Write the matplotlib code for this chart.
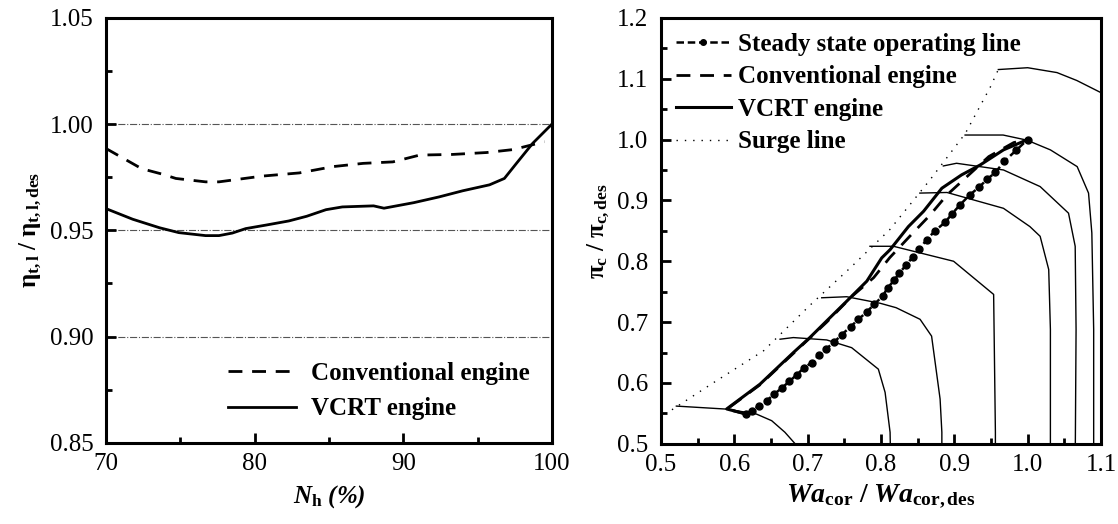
import matplotlib
matplotlib.use("Agg")
import matplotlib.pyplot as plt
from matplotlib.ticker import MultipleLocator, FormatStrFormatter

plt.rcParams["font.family"] = ["Liberation Serif", "DejaVu Serif"]
plt.rcParams["mathtext.fontset"] = "custom"
plt.rcParams["mathtext.rm"] = "Liberation Serif"
plt.rcParams["mathtext.it"] = "Liberation Serif:italic"
plt.rcParams["mathtext.bf"] = "Liberation Serif:bold"
plt.rcParams["mathtext.bfit"] = "Liberation Serif:bold:italic"

# ---- left panel: turbine efficiency vs. spool speed ----
nh_conv = [70, 72.4, 73.8, 74.7, 76.7, 77.6, 80.5, 83.0, 85.3, 87.3, 89.3, 91.1, 93.3, 95.6, 97.4, 99.5]
eta_conv = [0.9885, 0.979, 0.9764, 0.9744, 0.9728, 0.9728, 0.9755, 0.977, 0.980, 0.9815,
            0.9822, 0.9854, 0.9857, 0.9866, 0.988, 0.9917]

nh_vcrt = [70, 71.8, 73.6, 74.9, 76.7, 77.6, 78.5, 79.4, 80.8, 82.3, 83.5, 84.8, 85.9, 88.0,
           88.7, 90.7, 92.4, 94.0, 95.8, 96.8, 97.6, 98.7, 100]
eta_vcrt = [0.9602, 0.9552, 0.9512, 0.9489, 0.9475, 0.9475, 0.9487, 0.9508, 0.9525, 0.9544,
            0.9566, 0.9597, 0.961, 0.9615, 0.9604, 0.963, 0.9657, 0.9686, 0.9714, 0.9744,
            0.9814, 0.9909, 1.000]

# ---- right panel: compressor map ----
ss_wa = [0.616, 0.6237, 0.6342, 0.6442, 0.6546, 0.6646, 0.6751, 0.6851, 0.6951, 0.7056,
         0.7156, 0.7247, 0.7365, 0.7465, 0.7588, 0.7692, 0.7806, 0.7906, 0.8024, 0.8090,
         0.8179, 0.8251, 0.8342, 0.8433, 0.8524, 0.8624, 0.8738, 0.8874, 0.897, 0.908,
         0.921, 0.934, 0.945, 0.956, 0.968, 0.984, 1.0]
ss_pi = [0.5491, 0.5546, 0.5628, 0.5709, 0.5818, 0.5917, 0.6026, 0.6135, 0.6249, 0.6336,
         0.6462, 0.6555, 0.6675, 0.6795, 0.6926, 0.7046, 0.7166, 0.7291, 0.7427, 0.7564,
         0.7684, 0.7810, 0.7934, 0.8071, 0.8202, 0.8355, 0.8502, 0.8640, 0.878, 0.893,
         0.909, 0.922, 0.935, 0.946, 0.964, 0.982, 1.0]

conv_wa = [0.616, 0.590, 0.635, 0.680, 0.726, 0.760, 0.790, 0.812, 0.840, 0.867, 0.890,
           0.947, 0.981, 1.0]
conv_pi = [0.549, 0.557, 0.597, 0.648, 0.700, 0.742, 0.773, 0.806, 0.842, 0.876, 0.909,
           0.972, 0.995, 1.0]

vcrt_wa = [0.616, 0.5896, 0.635, 0.6806, 0.703, 0.726, 0.7535, 0.7807, 0.801, 0.8124,
           0.8374, 0.858, 0.883, 0.910, 0.935, 0.967, 1.0]
vcrt_pi = [0.549, 0.5573, 0.598, 0.650, 0.6746, 0.702, 0.7346, 0.7673, 0.8055, 0.819,
           0.857, 0.882, 0.920, 0.942, 0.958, 0.983, 1.0]

surge_wa = [0.515, 0.571, 0.640, 0.703, 0.758, 0.812, 0.867, 0.915, 0.949, 0.960]
surge_pi = [0.556, 0.600, 0.653, 0.7275, 0.789, 0.852, 0.934, 1.010, 1.086, 1.115]

speed_lines = [
    ([0.521, 0.590, 0.630, 0.651, 0.669, 0.683], [0.562, 0.557, 0.549, 0.538, 0.519, 0.50]),
    ([0.6624, 0.6805, 0.726, 0.760, 0.7964, 0.8056, 0.8124, 0.8127],
     [0.6719, 0.6746, 0.6707, 0.658, 0.6227, 0.5846, 0.519, 0.50]),
    ([0.7192, 0.7533, 0.7988, 0.8206, 0.8533, 0.869, 0.8806, 0.883, 0.883],
     [0.740, 0.7417, 0.731, 0.7237, 0.7046, 0.677, 0.5736, 0.519, 0.50]),
    ([0.785, 0.817, 0.899, 0.9536, 0.956, 0.956], [0.8246, 0.8246, 0.800, 0.7455, 0.519, 0.50]),
    ([0.853, 0.890, 0.967, 1.003, 1.017, 1.0287, 1.031, 1.031],
     [0.912, 0.913, 0.887, 0.857, 0.841, 0.7864, 0.688, 0.50]),
    ([0.885, 0.903, 0.967, 1.017, 1.0557, 1.0648, 1.066, 1.065],
     [0.9566, 0.961, 0.950, 0.9227, 0.879, 0.8246, 0.688, 0.50]),
    ([0.9147, 0.9665, 0.999, 1.031, 1.0675, 1.083, 1.0875, 1.09, 1.09],
     [1.0074, 1.0074, 0.999, 0.983, 0.9555, 0.912, 0.8465, 0.688, 0.50]),
    ([0.960, 1.0, 1.04, 1.067, 1.1], [1.115, 1.118, 1.110, 1.097, 1.077]),
]

fig = plt.figure(figsize=(11.18, 5.24), dpi=100)
ax1 = fig.add_axes([0.0948, 0.155, 0.3989, 0.811])
ax2 = fig.add_axes([0.5912, 0.153, 0.3936, 0.813])


def style_axes(ax):
    for s in ax.spines.values():
        s.set_linewidth(2.2)
    ax.tick_params(which="both", direction="in", width=2, labelsize=18)
    ax.tick_params(which="major", length=7)
    ax.tick_params(which="minor", length=4)
    ax.tick_params(axis="y", pad=9)
    ax.tick_params(axis="x", pad=7)


ax1.plot(nh_conv, eta_conv, color="black", lw=2, ls=(0, (5, 3.5)), label="Conventional engine")
ax1.plot(nh_vcrt, eta_vcrt, color="black", lw=2, label="VCRT engine")
ax1.set_xlim(70, 100)
ax1.set_ylim(0.85, 1.05)
ax1.xaxis.set_major_locator(MultipleLocator(10))
ax1.xaxis.set_minor_locator(MultipleLocator(5))
ax1.yaxis.set_major_locator(MultipleLocator(0.05))
ax1.yaxis.set_minor_locator(MultipleLocator(0.025))
ax1.yaxis.set_major_formatter(FormatStrFormatter("%.2f"))
ax1.yaxis.grid(True, ls="-.", color="#555555", lw=0.8)
style_axes(ax1)
ax1.set_xlabel(r"$\mathbfit{N}_{\mathbf{h}}\ \mathbfit{(\%)}$", fontsize=18, labelpad=6)
ax1.set_ylabel(r"$\mathbf{\eta}_{\mathbf{t,l}}\ \mathbf{/}\ \mathbf{\eta}_{\mathbf{t,l,des}}$",
               fontsize=18, labelpad=4)
ax1.legend(loc="lower right", frameon=False, handlelength=2.7, handletextpad=0.6,
           borderaxespad=0.5, prop={"weight": "bold", "size": 18}, labelspacing=0.5)

ax2.plot(ss_wa, ss_pi, color="black", lw=1.8, ls=(0, (3, 1.5)), marker="o", ms=5,
         label="Steady state operating line")
ax2.plot(conv_wa, conv_pi, color="black", lw=2, ls=(0, (5, 3.5)), label="Conventional engine")
ax2.plot(vcrt_wa, vcrt_pi, color="black", lw=2.2, label="VCRT engine")
ax2.plot(surge_wa, surge_pi, color="black", lw=1.0, ls=(0, (1, 5)), label="Surge line")
for wa, pi in speed_lines:
    ax2.plot(wa, pi, color="black", lw=1.0)
ax2.set_xlim(0.5, 1.1)
ax2.set_ylim(0.5, 1.2)
ax2.xaxis.set_major_locator(MultipleLocator(0.1))
ax2.xaxis.set_minor_locator(MultipleLocator(0.05))
ax2.yaxis.set_major_locator(MultipleLocator(0.1))
ax2.yaxis.set_minor_locator(MultipleLocator(0.05))
ax2.xaxis.set_major_formatter(FormatStrFormatter("%.1f"))
ax2.yaxis.set_major_formatter(FormatStrFormatter("%.1f"))
style_axes(ax2)
ax2.set_xlabel(r"$\mathbfit{Wa}_{\mathbf{cor}}\ \mathbf{/}\ \mathbfit{Wa}_{\mathbf{cor,des}}$",
               fontsize=20, labelpad=5)
ax2.set_ylabel(r"$\mathbf{\pi}_{\mathbf{c}}\ \mathbf{/}\ \mathbf{\pi}_{\mathbf{c,des}}$",
               fontsize=18, labelpad=4)
ax2.legend(loc="upper left", frameon=False, handlelength=2.2, handletextpad=0.3,
           borderaxespad=0.2, prop={"weight": "bold", "size": 18}, labelspacing=0.38,
           markerscale=0.8)

fig.savefig("out.png", dpi=100)
